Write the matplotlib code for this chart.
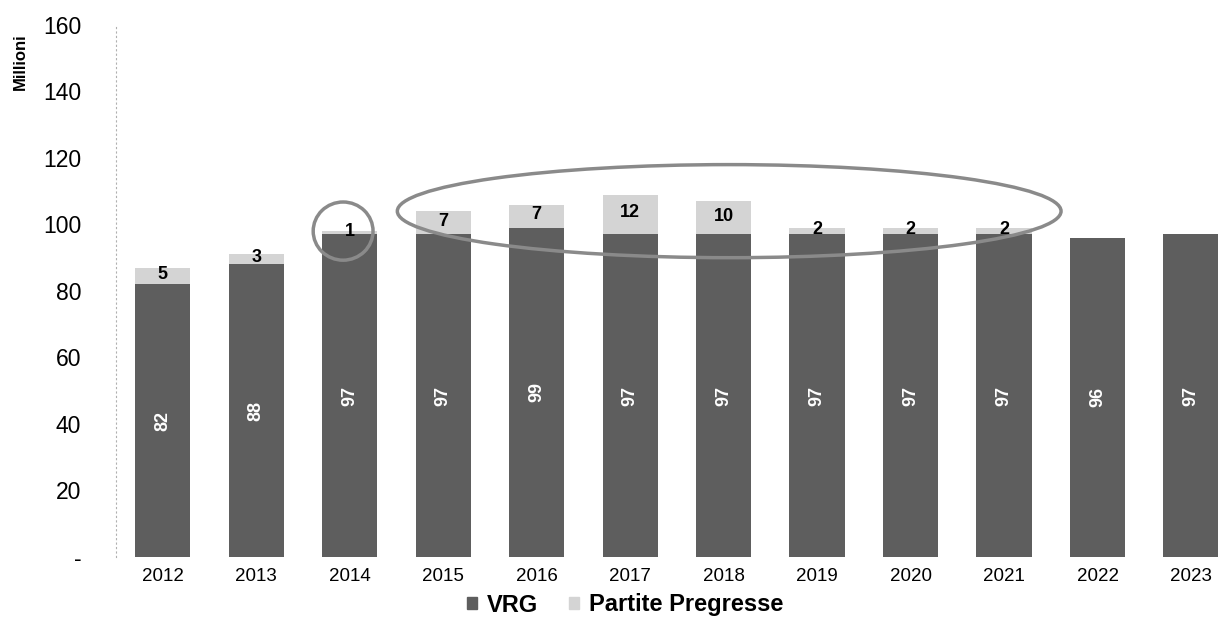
import matplotlib
matplotlib.use("Agg")
import matplotlib.pyplot as plt
from matplotlib.patches import Ellipse, Patch
import numpy as np

plt.rcParams['font.family'] = ['Liberation Sans', 'DejaVu Sans']

# data (milioni)
years = ['2012', '2013', '2014', '2015', '2016', '2017', '2018',
         '2019', '2020', '2021', '2022', '2023']
vrg = [82, 88, 97, 97, 99, 97, 97, 97, 97, 97, 96, 97]
pregresse = [5, 3, 1, 7, 7, 12, 10, 2, 2, 2, 0, 0]
yticks = [0, 20, 40, 60, 80, 100, 120, 140, 160]
ytick_labels = ['-', '20', '40', '60', '80', '100', '120', '140', '160']

dark = '#5e5e5e'
light = '#d4d4d4'

fig = plt.figure(figsize=(12.18, 6.25), dpi=100)
ax = fig.add_axes([0.0952, 0.109, 0.921, 0.851])

x = np.arange(len(years))
w = 0.59
ax.bar(x, vrg, w, color=dark, label='VRG')
ax.bar(x, pregresse, w, bottom=vrg, color=light, label='Partite Pregresse')

# labels inside the VRG bars (rotated, white)
for xi, v in zip(x, vrg):
    ax.text(xi, v / 2, str(v), rotation=90, ha='center', va='center',
            color='white', fontsize=13, fontweight='bold')

# labels of the previous-years part
for xi, v, p in zip(x, vrg, pregresse):
    if p > 0:
        ax.text(xi, v + p / 2 + 0.5, str(p), ha='center', va='center',
                color='black', fontsize=13, fontweight='bold')

# hand drawn highlights
ax.add_patch(Ellipse((1.93, 98), 0.64, 17.5, fill=False,
                     edgecolor='#8a8a8a', lw=2.5, zorder=5))
ax.add_patch(Ellipse((6.06, 104), 7.1, 28, fill=False,
                     edgecolor='#8a8a8a', lw=2.5, zorder=5))

ax.set_xlim(-0.5, len(years) - 0.5)
ax.set_ylim(0, 160)
ax.set_xticks(x)
ax.set_xticklabels(years, fontsize=13.5)
ax.set_yticks(yticks)
ax.set_yticklabels(ytick_labels, fontsize=16.5)
ax.tick_params(axis='both', length=0)
ax.tick_params(axis='y', pad=25)
ax.tick_params(axis='x', pad=8)

for s in ['top', 'right', 'bottom']:
    ax.spines[s].set_visible(False)
ax.spines['left'].set_color('#b0b0b0')
ax.spines['left'].set_linestyle((0, (1, 3)))
ax.spines['left'].set_linewidth(0.8)

fig.text(0.0164, 0.902, 'Millioni', rotation=90, ha='center', va='center',
         fontsize=12, fontweight='bold')

handles = [Patch(color=dark, label='VRG'),
           Patch(color=light, label='Partite Pregresse')]
fig.legend(handles=handles, loc='center', bbox_to_anchor=(0.513, 0.032),
           ncol=2, frameon=False, prop={'size': 17, 'weight': 'bold'},
           handlelength=0.45, handleheight=0.45, handletextpad=0.4,
           columnspacing=1.3, borderpad=0)

fig.savefig('out.png', dpi=100, facecolor='white')
